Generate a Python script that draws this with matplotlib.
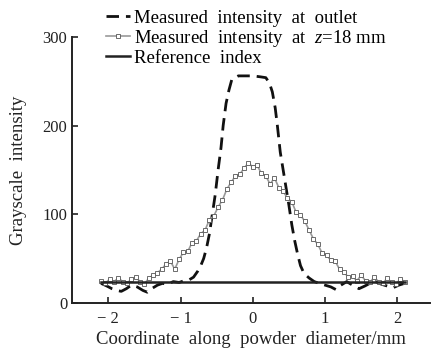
import matplotlib
matplotlib.use("Agg")
import matplotlib.pyplot as plt

plt.rcParams['font.family'] = 'Liberation Serif'
plt.rcParams['mathtext.fontset'] = 'custom'
plt.rcParams['mathtext.it'] = 'Liberation Serif:italic'
plt.rcParams['mathtext.rm'] = 'Liberation Serif'

# measured intensity at nozzle outlet
x_outlet = [-2.10, -2.02, -1.95, -1.88, -1.82, -1.75, -1.68, -1.60, -1.52, -1.46,
            -1.40, -1.32, -1.25, -1.18, -1.10, -1.02, -0.95, -0.88, -0.82, -0.76,
            -0.72, -0.68, -0.64, -0.60, -0.56, -0.52, -0.48, -0.44, -0.41, -0.37,
            -0.33, -0.29, -0.20, -0.10, 0.00, 0.10, 0.18, 0.23, 0.27, 0.31,
            0.34, 0.38, 0.42, 0.46, 0.50, 0.54, 0.58, 0.62, 0.66, 0.71,
            0.78, 0.85, 0.92, 1.00, 1.08, 1.15, 1.22, 1.30, 1.38, 1.47,
            1.55, 1.62, 1.70, 1.78, 1.86, 1.94, 2.02, 2.10]
y_outlet = [22, 19, 16, 14, 13, 16, 20, 18, 14, 12,
            16, 20, 22, 21, 24, 23, 25, 26, 29, 36,
            42, 50, 62, 78, 100, 122, 150, 175, 200, 225,
            240, 252, 256, 256, 256, 255, 254, 248, 238, 220,
            200, 170, 150, 130, 110, 88, 70, 55, 42, 33,
            28, 24, 22, 20, 18, 15, 20, 24, 20, 16,
            19, 22, 24, 21, 19, 17, 20, 22]

# measured intensity at z = 18 mm
x_z18 = [-2.10, -2.04, -1.98, -1.92, -1.86, -1.80, -1.74, -1.68, -1.62, -1.56,
         -1.50, -1.44, -1.38, -1.32, -1.26, -1.20, -1.14, -1.08, -1.02, -0.96,
         -0.90, -0.84, -0.78, -0.72, -0.66, -0.60, -0.54, -0.48, -0.42, -0.36,
         -0.30, -0.24, -0.18, -0.12, -0.06, 0.00, 0.06, 0.12, 0.18, 0.24,
         0.30, 0.36, 0.42, 0.48, 0.54, 0.60, 0.66, 0.72, 0.78, 0.84,
         0.90, 0.96, 1.02, 1.08, 1.14, 1.20, 1.26, 1.32, 1.38, 1.44,
         1.50, 1.56, 1.62, 1.68, 1.74, 1.80, 1.86, 1.92, 1.98, 2.04, 2.10]
y_z18 = [25, 22, 27, 24, 28, 24, 22, 27, 29, 24,
         21, 28, 31, 34, 38, 44, 47, 38, 49, 57,
         58, 68, 70, 78, 82, 94, 98, 108, 116, 128,
         136, 143, 145, 152, 158, 153, 155, 146, 143, 134,
         141, 130, 126, 118, 114, 102, 99, 92, 82, 72,
         66, 56, 54, 48, 47, 38, 35, 29, 30, 25,
         31, 25, 23, 29, 24, 22, 28, 23, 21, 27, 24]

# reference index
x_ref = [-2.10, 2.10]
y_ref = [24, 24]

fig = plt.figure(figsize=(4.32, 3.58), dpi=100)
ax = fig.add_axes([0.167, 0.154, 0.828, 0.743])

l1, = ax.plot(x_outlet, y_outlet, color='#111111', lw=2.0, ls=(0, (4.5, 2.5)))
l2, = ax.plot(x_z18, y_z18, color='#999999', lw=1.2, marker='s', ms=2.2,
              mfc='white', mec='#555555', mew=0.6)
l3, = ax.plot(x_ref, y_ref, color='#222222', lw=1.8)

ax.set_xlim(-2.5, 2.45)
ax.set_ylim(0, 300)
ax.set_xticks([-2, -1, 0, 1, 2])
ax.set_xticklabels(['\u2212 2', '\u2212 1', '0', '1', '2'])
ax.set_yticks([0, 100, 200, 300])
ax.tick_params(direction='in', length=4, width=1.2, labelsize=12, colors='#222222')
ax.tick_params(axis='x', pad=6)
for s in ['top', 'right']:
    ax.spines[s].set_visible(False)
for s in ['left', 'bottom']:
    ax.spines[s].set_linewidth(1.4)
    ax.spines[s].set_color('#222222')

ax.set_xlabel('Coordinate  along  powder  diameter/mm', fontsize=13.5, labelpad=3, color='#222222')
ax.set_ylabel('Grayscale  intensity', fontsize=13.5, labelpad=11, color='#222222')

fig.legend([l1, l2, l3],
           ['Measured  intensity  at  outlet', r'Measured  intensity  at  $z$=18 mm', 'Reference  index'],
           loc='upper left', bbox_to_anchor=(0.215, 1.01), frameon=False, fontsize=13.5,
           handlelength=1.3, handletextpad=0.2, labelspacing=0.05, borderpad=0.2)

fig.savefig('out.png', dpi=100)
